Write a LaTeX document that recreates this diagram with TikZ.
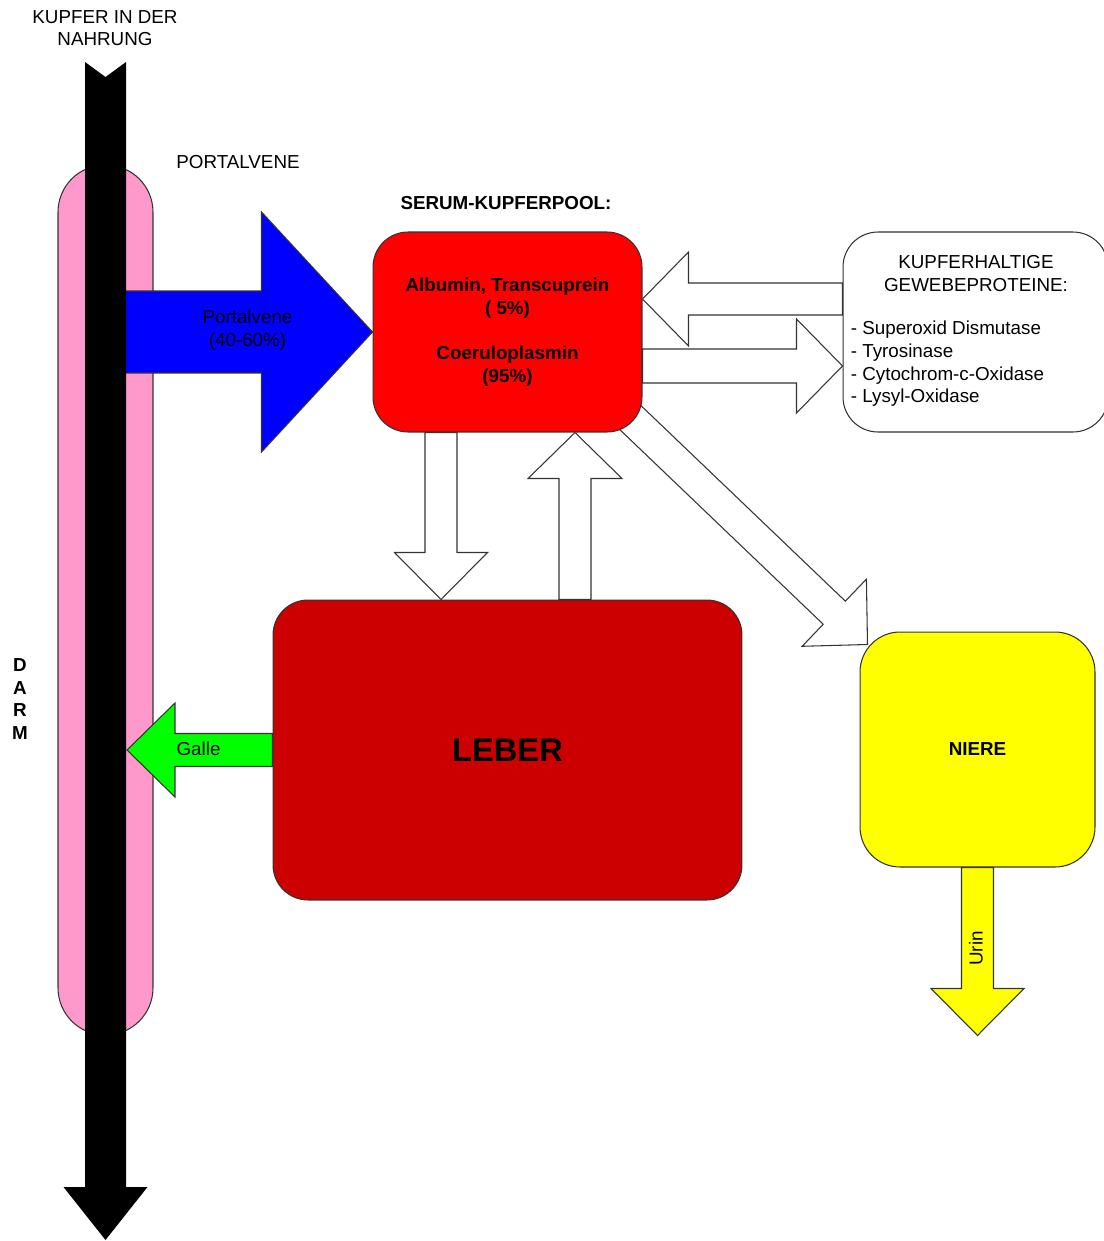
\documentclass[tikz,border=0pt]{standalone}
\usepackage{fontspec}
\setmainfont{Liberation Sans}
\usetikzlibrary{calc,backgrounds}

\definecolor{darmrosa}{HTML}{FF99CC}
\definecolor{serumrot}{HTML}{FF0000}
\definecolor{leberrot}{HTML}{CC0000}
\definecolor{nierengelb}{HTML}{FFFF00}
\definecolor{gallegruen}{HTML}{00FF00}
\definecolor{portalblau}{HTML}{0000FF}
\definecolor{rand}{HTML}{333333}

\tikzset{
  txt/.style={inner sep=0pt, font=\fontsize{10.7}{12.9}\selectfont},
  fett/.style={inner sep=0pt, font=\fontsize{10.7}{12.9}\selectfont\bfseries},
  kasten/.style={draw=rand, line width=0.6pt, rounded corners=0.7cm, inner sep=0pt},
  pfeil/.style={draw=rand, line width=0.6pt, fill=white},
}

% fat arrow: [style]{from}{to}{half shaft}{half head}{head length}
\newcommand{\fatarrow}[6][]{%
  \coordinate (fa-a) at (#2);
  \coordinate (fa-b) at (#3);
  \coordinate (fa-h) at ($(fa-b)!#6!(fa-a)$);
  \draw [pfeil,#1] ($(fa-a)!#4!90:(fa-b)$) -- ($(fa-h)!#4!90:(fa-b)$)
    -- ($(fa-h)!#5!90:(fa-b)$) -- (fa-b)
    -- ($(fa-h)!#5!-90:(fa-b)$) -- ($(fa-h)!#4!-90:(fa-b)$)
    -- ($(fa-a)!#4!-90:(fa-b)$) -- cycle;
}

\begin{document}
\begin{tikzpicture}[x=0.02cm,y=-0.02cm]
    \useasboundingbox (0,0) rectangle (1103,1241);

    \node [kasten, fill=darmrosa, rounded corners=0.94cm, minimum width=1.9cm, minimum height=17.4cm] (darm) at (105.5,600) {};

    \node [kasten, fill=serumrot, minimum width=5.38cm, minimum height=4cm, fett, align=center] (pool) at (507.5,332)
        {Albumin, Transcuprein\\( 5\%)\\[12.9pt]Coeruloplasmin\\(95\%)};
    \node [kasten, fill=white, minimum width=5.3cm, minimum height=4cm] (gewebe) at (975.5,332) {};
    \node [kasten, fill=leberrot, minimum width=9.38cm, minimum height=6cm, font=\fontsize{18.6}{22}\selectfont\bfseries] (leber) at (507.5,750) {LEBER};
    \node [kasten, fill=nierengelb, rounded corners=0.8cm, minimum width=4.7cm, minimum height=4.7cm, fett] (niere) at (977.5,749.5) {NIERE};

    \begin{pgfonlayer}{background}
        \fatarrow{$(pool.center)+(93,57)$}{$(niere.north west)+(8,13)$}{0.32cm}{0.93cm}{0.92cm}
        \fatarrow{$(pool.south)+(-66.5,0)$}{$(leber.north)+(-66.5,0)$}{0.32cm}{0.93cm}{0.94cm}
        \fatarrow{$(leber.north)+(67.5,0)$}{$(pool.south)+(67.5,0)$}{0.32cm}{0.94cm}{0.92cm}
        \fatarrow{$(gewebe.west)+(0,-33)$}{$(pool.east)+(0,-33)$}{0.32cm}{0.94cm}{0.92cm}
        \fatarrow{$(pool.east)+(0,34)$}{$(gewebe.west)+(0,34)$}{0.34cm}{0.94cm}{0.92cm}
    \end{pgfonlayer}

    \coordinate (urin) at ($(niere.south)+(0,168)$);
    \fatarrow[fill=nierengelb]{niere.south}{urin}{0.32cm}{0.93cm}{0.94cm}

    \fatarrow[fill=portalblau]{pool.west -| darm.center}{pool.west}{0.82cm}{2.4cm}{2.22cm}
    \fatarrow[fill=gallegruen]{leber.west}{$(leber.west -| darm.center)+(21.5,0)$}{0.33cm}{0.94cm}{0.96cm}

    % Kupfer in der Nahrung
    \coordinate (nahrung) at (105.5,62);
    \coordinate (ausgang) at (105.5,1240);
    \fill [black] ($(nahrung)+(-20.5,0)$) -- ($(nahrung)+(0,15)$) -- ($(nahrung)+(20.5,0)$)
        -- ($(ausgang)+(20.5,-53)$) -- ($(ausgang)+(42,-53)$) -- (ausgang)
        -- ($(ausgang)+(-42,-53)$) -- ($(ausgang)+(-20.5,-53)$) -- cycle;

    \node [txt, align=center] (nahrungtext) at (105,28) {KUPFER IN DER\\NAHRUNG};
    \node [txt] (portaltext) at (238,162) {PORTALVENE};
    \node [fett] (pooltext) at (506,203) {SERUM-KUPFERPOOL:};
    \node [fett, align=center, font=\fontsize{10.7}{12.8}\selectfont\bfseries] (darmtext) at (20,699) {D\\A\\R\\M};
    \node [txt, align=center] (portal) at ($(pool.west)+(-125,-2)$) {Portalvene\\(40-60\%)};
    \node [txt] (galle) at ($(leber.west)+(-74,-1)$) {Galle};
    \node [txt, rotate=90] (urintext) at ($(niere.south)+(-1.5,81)$) {Urin};
    \node [txt, align=center] (gewebekopf) at ($(gewebe.center)+(0.5,-58.5)$) {KUPFERHALTIGE\\GEWEBEPROTEINE:};
    \node [txt, align=left, anchor=west] (gewebeliste) at ($(gewebe.west)+(8,32)$)
        {- Superoxid Dismutase\\- Tyrosinase\\- Cytochrom-c-Oxidase\\- Lysyl-Oxidase};
\end{tikzpicture}
\end{document}
